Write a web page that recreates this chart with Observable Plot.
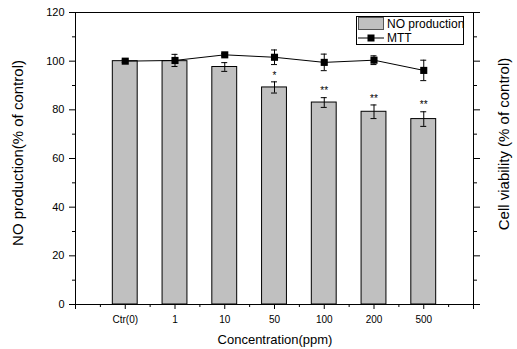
<!DOCTYPE html>
<html><head><meta charset="utf-8">
<script src="https://cdn.jsdelivr.net/npm/d3@7"></script>
<script src="https://cdn.jsdelivr.net/npm/@observablehq/plot@0.6"></script>
<style>body{margin:0;background:#fff} #chart{width:517px;height:349px}</style>
</head><body><div id="chart"></div>
<script>
const categories = ["Ctr(0)","1","10","50","100","200","500"];
const noProduction = [100, 100, 97.6, 89.2, 83.0, 79.2, 76.2];
const noError = [0, 0, 1.8, 2.3, 2.0, 2.8, 3.0];
const mtt = [100, 100.3, 102.6, 101.6, 99.5, 100.4, 96.2];
const mttError = [0.5, 2.5, 0.5, 3.0, 3.4, 1.8, 4.2];
const significance = ["", "", "", "*", "**", "**", "**"];
const yTicks = [0, 20, 40, 60, 80, 100, 120];
const yMinorTicks = [10, 30, 50, 70, 90, 110];

const rows = categories.map((c, i) => ({
  cat: c, pos: i + 1, no: noProduction[i], noErr: noError[i],
  mtt: mtt[i], mttErr: mttError[i], sig: significance[i]
}));
const xMajor = d3.range(0, categories.length + 2);
const xMinor = d3.range(0, categories.length + 1).map(v => v + 0.5);
const font = "Arial, 'Liberation Sans', sans-serif";

const capW = 0.06;
const chart = Plot.plot({
  width: 517, height: 349,
  marginLeft: 75, marginRight: 44, marginTop: 12, marginBottom: 45,
  style: {fontFamily: font, fontSize: "11px", color: "#000", background: "#fff"},
  x: {domain: [0, categories.length + 1]},
  y: {domain: [0, 120]},
  marks: [
    Plot.rectY(rows, {x1: d => d.pos - 0.25, x2: d => d.pos + 0.25, y1: 0, y2: "no", fill: "#c0c0c0", stroke: "#000", strokeWidth: 1}),
    Plot.ruleX(rows.filter(d => d.noErr > 0), {x: "pos", y1: d => d.no - d.noErr, y2: d => d.no + d.noErr, stroke: "#000"}),
    Plot.ruleY(rows.filter(d => d.noErr > 0), {y: d => d.no + d.noErr, x1: d => d.pos - capW, x2: d => d.pos + capW, stroke: "#000"}),
    Plot.ruleY(rows.filter(d => d.noErr > 0), {y: d => d.no - d.noErr, x1: d => d.pos - capW, x2: d => d.pos + capW, stroke: "#000"}),
    Plot.text(rows, {x: "pos", y: d => d.no + d.noErr, text: "sig", dy: -6.5, fontSize: 10, fill: "#000"}),
    Plot.line(rows, {x: "pos", y: "mtt", stroke: "#000", strokeWidth: 1}),
    Plot.ruleX(rows, {x: "pos", y1: d => d.mtt - d.mttErr, y2: d => d.mtt + d.mttErr, stroke: "#000"}),
    Plot.ruleY(rows, {y: d => d.mtt + d.mttErr, x1: d => d.pos - capW, x2: d => d.pos + capW, stroke: "#000"}),
    Plot.ruleY(rows, {y: d => d.mtt - d.mttErr, x1: d => d.pos - capW, x2: d => d.pos + capW, stroke: "#000"}),
    Plot.dot(rows, {x: "pos", y: "mtt", symbol: "square", r: 4, fill: "#000", stroke: "none"}),
    Plot.axisY({ticks: yTicks, tickSize: 6, tickPadding: 5, fontSize: 11, label: null}),
    Plot.axisY({ticks: yMinorTicks, tickSize: 3, tickFormat: () => "", label: null}),
    Plot.axisY({anchor: "right", ticks: yTicks, tickSize: 6, tickFormat: () => "", label: null}),
    Plot.axisY({anchor: "right", ticks: yMinorTicks, tickSize: 3, tickFormat: () => "", label: null}),
    Plot.axisX({ticks: xMajor, tickSize: 5, tickPadding: 6, fontSize: 10, tickFormat: v => categories[v - 1] ?? "", label: null}),
    Plot.axisX({ticks: xMinor, tickSize: 3, tickFormat: () => "", label: null}),
    Plot.frame({stroke: "#000", strokeWidth: 1})
  ]
});

const svg = d3.select(chart);
svg.append("text").attr("transform", "translate(18,153) rotate(-90)")
  .attr("text-anchor", "middle").attr("dy", "0.35em")
  .attr("font-size", 15).attr("font-family", font).attr("fill", "#000")
  .text("NO production(% of control)");
svg.append("text").attr("transform", "translate(504,144) rotate(-90)")
  .attr("text-anchor", "middle").attr("dy", "0.35em")
  .attr("font-size", 15).attr("font-family", font).attr("fill", "#000")
  .text("Cell viability (% of control)");
svg.append("text").attr("x", 275).attr("y", 344)
  .attr("text-anchor", "middle")
  .attr("font-size", 13).attr("font-family", font).attr("fill", "#000")
  .text("Concentration(ppm)");

// legend
const lg = svg.append("g").attr("font-family", font).attr("font-size", 12)
  .attr("fill", "#000").attr("text-anchor", "start");
lg.append("rect").attr("x", 356.5).attr("y", 16.5).attr("width", 107).attr("height", 28)
  .attr("fill", "#fff").attr("stroke", "#000");
lg.append("rect").attr("x", 358.5).attr("y", 17.5).attr("width", 25).attr("height", 12)
  .attr("fill", "#c0c0c0").attr("stroke", "#555");
lg.append("text").attr("x", 387).attr("y", 28).attr("text-anchor", "start").text("NO production");
lg.append("line").attr("x1", 358).attr("x2", 384).attr("y1", 38).attr("y2", 38).attr("stroke", "#000");
lg.append("rect").attr("x", 367.5).attr("y", 34.5).attr("width", 7).attr("height", 7).attr("fill", "#000");
lg.append("text").attr("x", 387).attr("y", 42).attr("text-anchor", "start").text("MTT");

document.getElementById("chart").appendChild(chart);
</script>
</body></html>
